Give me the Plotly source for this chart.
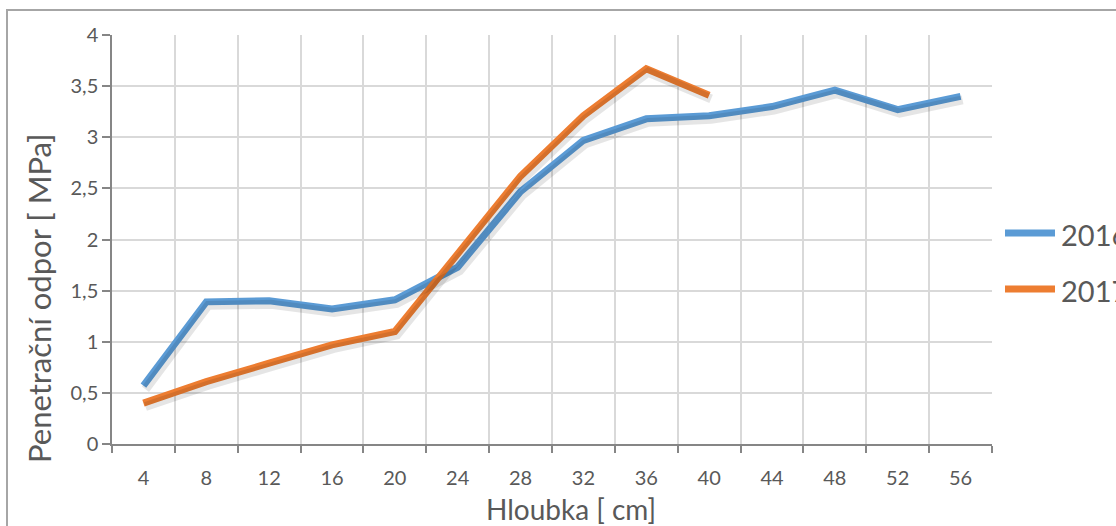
import plotly.graph_objects as go

# Depth categories (cm) and penetration resistance (MPa) per year
depths = [4, 8, 12, 16, 20, 24, 28, 32, 36, 40, 44, 48, 52, 56]
odpor_2016 = [0.57, 1.39, 1.40, 1.32, 1.41, 1.73, 2.47, 2.97, 3.18, 3.21, 3.30, 3.46, 3.27, 3.40]
odpor_2017 = [0.40, 0.61, 0.79, 0.97, 1.10, 1.86, 2.62, 3.21, 3.67, 3.41, None, None, None, None]
series_names = ["2016", "2017"]
series_colors = ["#5B9BD5", "#ED7D31"]
y_ticks = [0, 0.5, 1, 1.5, 2, 2.5, 3, 3.5, 4]

W, H = 1116, 526
M_L, M_R, M_T, M_B = 112, 124, 35, 82
PW, PH = W - M_L - M_R, H - M_T - M_B

TXT = "#595959"
AX = "#868686"
GRID = "#d9d9d9"
FONT = "Lato"

x_labels = [str(d) for d in depths]
n = len(depths)

fig = go.Figure()

# soft drop shadow under each line, drawn on a slightly shifted overlay axis pair
sx = 2.0 / (PW / n)
sy = 3.5 / (PH / 4.0)
for vals in (odpor_2016, odpor_2017):
    fig.add_trace(go.Scatter(
        x=x_labels, y=vals, mode="lines", xaxis="x2", yaxis="y2",
        line=dict(color="rgba(0,0,0,0.10)", width=9),
        hoverinfo="skip", showlegend=False,
    ))

for name, vals, col in zip(series_names, (odpor_2016, odpor_2017), series_colors):
    fig.add_trace(go.Scatter(
        x=x_labels, y=vals, mode="lines", name=name,
        line=dict(color=col, width=7), showlegend=False,
    ))

fig.update_layout(
    width=W, height=H,
    margin=dict(l=M_L, r=M_R, t=M_T, b=M_B, autoexpand=False),
    paper_bgcolor="white", plot_bgcolor="white",
    separators=", ",
    font=dict(family=FONT, color=TXT),
    xaxis=dict(
        type="category", categoryorder="array", categoryarray=x_labels,
        range=[-0.5, n - 0.5], tickson="boundaries",
        ticks="outside", ticklen=7, tickwidth=2, tickcolor=AX,
        ticklabelstandoff=15,
        showline=True, linecolor=AX, linewidth=2,
        showgrid=True, gridcolor=GRID, gridwidth=1.5,
        tickfont=dict(size=20, color=TXT, family=FONT),
        zeroline=False, fixedrange=True,
    ),
    yaxis=dict(
        range=[0, 4], tickvals=y_ticks, ticksuffix="\u00a0\u00a0",
        ticks="outside", ticklen=8, tickwidth=1.5, tickcolor=AX,
        showline=True, linecolor=AX, linewidth=1.5,
        showgrid=True, gridcolor=GRID, gridwidth=1.5,
        tickfont=dict(size=20, color=TXT, family=FONT),
        zeroline=False, fixedrange=True,
    ),
    xaxis2=dict(
        type="category", categoryorder="array", categoryarray=x_labels,
        range=[-0.5 - sx, n - 0.5 - sx], overlaying="x",
        visible=False, fixedrange=True,
    ),
    yaxis2=dict(
        range=[0 + sy, 4 + sy], overlaying="y",
        visible=False, fixedrange=True,
    ),
)

def px_x(px):
    return (px - M_L) / PW

def px_y(py):
    return (H - M_B - py) / PH

# chart frame, running past the right and bottom edge of the view
fig.add_shape(type="rect", xref="paper", yref="paper",
              x0=px_x(7), x1=px_x(W + 40), y0=px_y(H + 40), y1=px_y(10),
              line=dict(color="#a6a6a6", width=2), fillcolor="rgba(0,0,0,0)", layer="below")

# axis titles
fig.add_annotation(text="Hloubka [ cm]", xref="paper", yref="paper",
                   x=px_x(571), y=px_y(509), showarrow=False,
                   font=dict(size=28, color=TXT, family=FONT),
                   xanchor="center", yanchor="middle")
fig.add_annotation(text="Penetrační odpor [ MPa]", xref="paper", yref="paper",
                   x=px_x(39), y=px_y(298), showarrow=False, textangle=-90,
                   font=dict(size=31, color=TXT, family=FONT),
                   xanchor="center", yanchor="middle")

# legend entries
for name, col, ly in zip(series_names, series_colors, (233, 289)):
    fig.add_shape(type="line", xref="paper", yref="paper",
                  x0=px_x(1005), x1=px_x(1055), y0=px_y(ly), y1=px_y(ly),
                  line=dict(color=col, width=7))
    fig.add_annotation(text=name, xref="paper", yref="paper",
                       x=px_x(1059), y=px_y(ly + 1), showarrow=False,
                       xanchor="left", yanchor="middle",
                       font=dict(size=29, color=TXT, family=FONT))

fig.write_html("out.html")
